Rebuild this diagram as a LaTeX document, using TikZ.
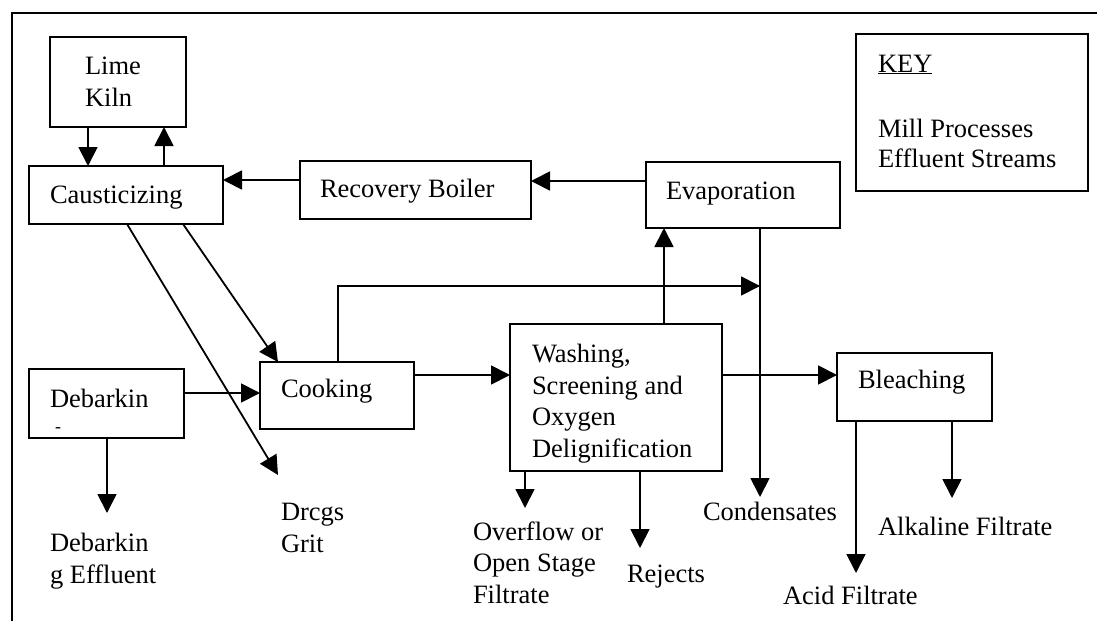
\documentclass[tikz,border=0pt]{standalone}
\usepackage{fontspec}
\setmainfont{Liberation Serif}
\usetikzlibrary{arrows.meta}
\tikzset{
  box/.style={draw, line width=2pt, inner sep=0pt, outer sep=0pt, anchor=north west},
  lbl/.style={anchor=base west, inner sep=0pt, outer sep=0pt, align=left,
              font=\fontsize{26.5}{31.5}\selectfont},
  arr/.style={line width=1.8pt, -{Triangle[length=19pt,width=19pt]}},
  ln/.style={line width=1.8pt}
}
\begin{document}
\begin{tikzpicture}[x=1pt,y=-1pt]
\useasboundingbox (0,0) rectangle (1097,621);
% frame
\draw[line width=1.8pt] (12,621) -- (12,13) -- (1097,13);

% boxes
\node[box, minimum width=136pt, minimum height=90pt] (lime) at (50,37) {};
\node[box, minimum width=194pt, minimum height=58pt] (caust) at (29,166) {};
\node[box, minimum width=231pt, minimum height=58pt] (rec) at (300,161) {};
\node[box, minimum width=194pt, minimum height=66pt] (evap) at (646,162) {};
\node[box, minimum width=154pt, minimum height=67pt] (cook) at (260,362) {};
\node[box, minimum width=155pt, minimum height=69pt] (deb) at (29,369) {};
\node[box, minimum width=212pt, minimum height=147pt] (wash) at (510,324) {};
\node[box, minimum width=155pt, minimum height=68pt] (bleach) at (837,353) {};
\node[box, minimum width=232pt, minimum height=157pt] (key) at (856,34) {};

% box texts (multi-line nodes: base = baseline of last line)
\node[lbl] (limet) at (85,106) {Lime\\Kiln};
\node[lbl] (caustt) at (50,203) {Causticizing};
\node[lbl] (rect) at (320,197) {Recovery Boiler};
\node[lbl] (evapt) at (666,199) {Evaporation};
\node[lbl] (cookt) at (281,397) {Cooking};
\node[lbl] (debt) at (50,407) {Debarkin};
\node[anchor=base west, inner sep=0pt, font=\fontsize{18}{18}\selectfont] (debmark) at (55,432) {-};
\node[lbl] (washt) at (532,457) {Washing,\\Screening and\\Oxygen\\Delignification};
\node[lbl] (bleacht) at (858,388) {Bleaching};
\node[lbl] (keyt) at (878,72) {\underline{KEY}};
\node[lbl, font=\fontsize{26.5}{30}\selectfont] (keyl) at (878,167) {Mill Processes\\Effluent Streams};

% outputs
\node[lbl] (debeff) at (50,583) {Debarkin\\g Effluent};
\node[lbl] (dregs) at (281,552) {Drcgs\\Grit};
\node[lbl] (overflow) at (473,603) {Overflow or\\Open Stage\\Filtrate};
\node[lbl] (rejects) at (627,582) {Rejects};
\node[lbl] (cond) at (703,520) {Condensates};
\node[lbl] (acid) at (783,604) {Acid Filtrate};
\node[lbl] (alk) at (878,535) {Alkaline Filtrate};

% free ends
\coordinate (condtip) at (760,497);
\coordinate (junc) at (760,286);
\coordinate (debtip) at (107,513);
\coordinate (dregtip) at (278,475);
\coordinate (ovtip) at (525,508);
\coordinate (rejtip) at (640,548);
\coordinate (acidtip) at (856,573);
\coordinate (alktip) at (952,498);

% connectors
\draw[arr] (lime.south -| 88,0) -- (caust.north -| 88,0);
\draw[arr] (caust.north -| 164,0) -- (lime.south -| 164,0);
\draw[arr] (rec.west |- 0,180) -- (caust.east |- 0,180);
\draw[arr] (evap.west |- 0,181) -- (rec.east |- 0,181);
\draw[arr] (wash.north -| 664,0) -- (evap.south -| 664,0);
\draw[arr] (evap.south -| 760,0) -- (condtip);
\draw[arr] (cook.north -| 338,0) |- (junc);
\draw[arr] (deb.east |- 0,393) -- (cook.west |- 0,393);
\draw[arr] (deb.south -| 107,0) -- (debtip);
\draw[arr] (caust.south -| 127,0) -- (dregtip);
\draw[arr] (caust.south -| 183,0) -- (cook.north -| 278,0);
\draw[arr] (cook.east |- 0,375) -- (wash.west |- 0,375);
\draw[arr] (wash.east |- 0,375) -- (bleach.west |- 0,375);
\draw[arr] (wash.south -| 525,0) -- (ovtip);
\draw[arr] (wash.south -| 640,0) -- (rejtip);
\draw[arr] (bleach.south -| 856,0) -- (acidtip);
\draw[arr] (bleach.south -| 952,0) -- (alktip);
\end{tikzpicture}
\end{document}
